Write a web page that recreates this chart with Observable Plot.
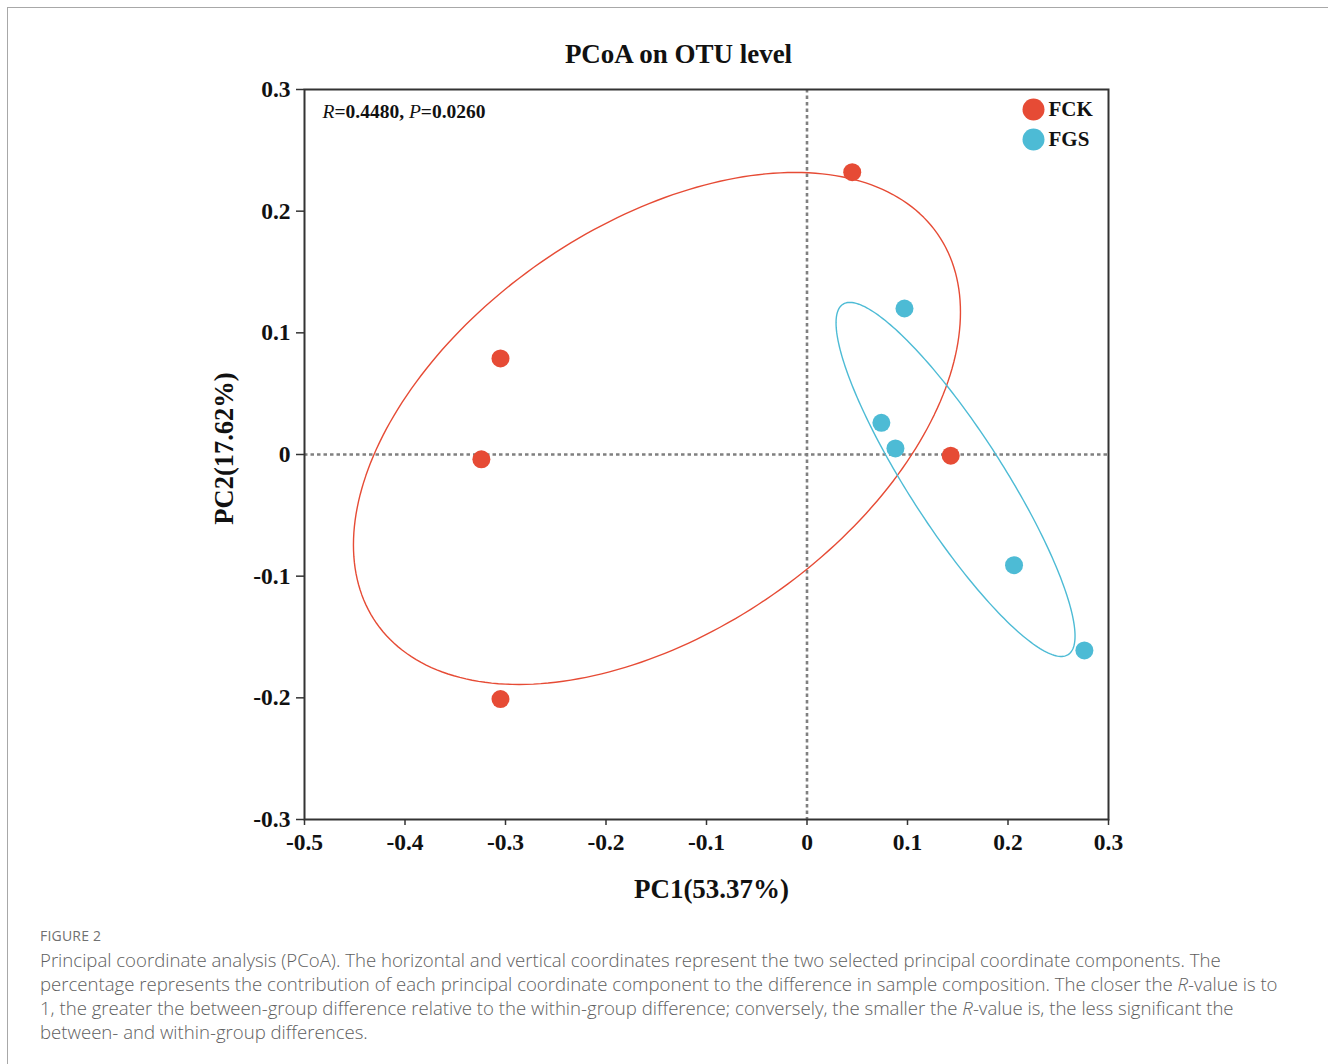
<!DOCTYPE html>
<html>
<head>
<meta charset="utf-8">
<script src="https://cdn.jsdelivr.net/npm/d3@7"></script>
<script src="https://cdn.jsdelivr.net/npm/@observablehq/plot@0.6"></script>
<style>
  html, body { margin: 0; padding: 0; background: #fff; }
  body { width: 1328px; height: 1064px; position: relative; overflow: hidden; }
  #frame { position: absolute; left: 7px; top: 7px; width: 1400px; height: 1200px; border: 1px solid #a8a8a8; box-sizing: border-box; }
  #chart { position: absolute; left: 0; top: 0; }
  #caption { position: absolute; left: 40px; top: 926px; font-family: "Open Sans", "Noto Sans", sans-serif; color: #5e5e5e; }
  #caption .fig { font-size: 14px; color: #707070; letter-spacing: 0.2px; line-height: 20px; margin-bottom: 2px; }
  #caption .line { font-size: 18.6px; line-height: 24px; white-space: nowrap; font-weight: 300; letter-spacing: 0px; }
</style>
</head>
<body>
<div id="frame"></div>
<div id="chart"></div>
<div id="caption">
  <div class="fig">FIGURE 2</div>
  <div class="line">Principal coordinate analysis (PCoA). The horizontal and vertical coordinates represent the two selected principal coordinate components. The</div>
  <div class="line">percentage represents the contribution of each principal coordinate component to the difference in sample composition. The closer the <i>R</i>-value is to</div>
  <div class="line">1, the greater the between-group difference relative to the within-group difference; conversely, the smaller the <i>R</i>-value is, the less significant the</div>
  <div class="line">between- and within-group differences.</div>
</div>
<script>
// ---- data ----
const groups = ["FCK", "FGS"];
const groupColors = ["#E64B35", "#4DBBD5"];

const fckPC1 = [0.045, -0.305, -0.324, -0.305, 0.143];
const fckPC2 = [0.232, 0.079, -0.004, -0.201, -0.001];
const fgsPC1 = [0.097, 0.074, 0.088, 0.206, 0.276];
const fgsPC2 = [0.120, 0.026, 0.005, -0.091, -0.161];

// confidence ellipses: centre, half extent in x and y, covariance term
const ellipseGroup = ["FCK", "FGS"];
const ellipseCX = [-0.1493, 0.1478];
const ellipseCY = [0.0214, -0.0205];
const ellipseHalfX = [0.302, 0.1189];
const ellipseHalfY = [0.2104, 0.1455];
const ellipseCov = [0.0289, -0.0153];

const xTicks = [-0.5, -0.4, -0.3, -0.2, -0.1, 0, 0.1, 0.2, 0.3];
const xTickLabels = ["-0.5", "-0.4", "-0.3", "-0.2", "-0.1", "0", "0.1", "0.2", "0.3"];
const yTicks = [-0.3, -0.2, -0.1, 0, 0.1, 0.2, 0.3];
const yTickLabels = ["-0.3", "-0.2", "-0.1", "0", "0.1", "0.2", "0.3"];

const titleText = "PCoA on OTU level";
const xLabel = "PC1(53.37%)";
const yLabel = "PC2(17.62%)";
const statText = "R=0.4480, P=0.0260";

// ---- build tables ----
const points = [
  ...fckPC1.map((x, i) => ({group: "FCK", x, y: fckPC2[i]})),
  ...fgsPC1.map((x, i) => ({group: "FGS", x, y: fgsPC2[i]}))
];

const ellipsePts = [];
ellipseGroup.forEach((g, k) => {
  const a = ellipseHalfX[k];
  const c = ellipseCov[k] / a;
  const d = Math.sqrt(ellipseHalfY[k] ** 2 - c * c);
  const n = 240;
  for (let i = 0; i <= n; i++) {
    const t = (2 * Math.PI * i) / n;
    ellipsePts.push({
      group: g,
      x: ellipseCX[k] + a * Math.cos(t),
      y: ellipseCY[k] + c * Math.cos(t) + d * Math.sin(t)
    });
  }
});

const fmtX = d => xTickLabels[xTicks.findIndex(v => Math.abs(v - d) < 1e-9)];
const fmtY = d => yTickLabels[yTicks.findIndex(v => Math.abs(v - d) < 1e-9)];

const serif = "'Liberation Serif', 'Times New Roman', serif";

const plot = Plot.plot({
  width: 1328,
  height: 920,
  marginLeft: 304,
  marginRight: 220,
  marginTop: 89,
  marginBottom: 101,
  style: {fontFamily: serif, fontWeight: "bold", color: "#111", background: "transparent"},
  x: {domain: [-0.5, 0.3], nice: false},
  y: {domain: [-0.3, 0.3], nice: false},
  color: {domain: groups, range: groupColors},
  marks: [
    Plot.ruleY([0], {stroke: "#808080", strokeWidth: 2.6, strokeDasharray: "3.5,3"}),
    Plot.ruleX([0], {stroke: "#808080", strokeWidth: 2.6, strokeDasharray: "3.5,3"}),
    Plot.line(ellipsePts, {x: "x", y: "y", z: "group", stroke: "group", strokeWidth: 1.4, curve: "linear"}),
    Plot.dot(points, {x: "x", y: "y", fill: "group", r: 9, stroke: "none"}),
    Plot.frame({stroke: "#333", strokeWidth: 2}),
    Plot.axisX({ticks: xTicks, tickFormat: fmtX, tickSize: 6, tickPadding: 8, fontSize: 23.5, fontWeight: "bold", fontFamily: serif, stroke: "#333", strokeWidth: 1.5, label: null}),
    Plot.axisY({ticks: yTicks, tickFormat: fmtY, tickSize: 8, tickPadding: 6, fontSize: 23.5, fontWeight: "bold", fontFamily: serif, stroke: "#333", strokeWidth: 1.5, label: null}),
    Plot.text([titleText], {text: d => d, frameAnchor: "top", dx: -28, dy: -35, lineAnchor: "middle", fontSize: 27, fontWeight: "bold", fontFamily: serif, fill: "#111"}),
    Plot.text([xLabel], {text: d => d, frameAnchor: "bottom", dx: 5, dy: 70, lineAnchor: "middle", fontSize: 27, fontWeight: "bold", fontFamily: serif, fill: "#111"}),
    Plot.text([yLabel], {text: d => d, frameAnchor: "left", dx: -80, dy: -6, rotate: -90, lineAnchor: "middle", textAnchor: "middle", fontSize: 26.5, fontWeight: "bold", fontFamily: serif, fill: "#111"}),
    Plot.text([statText], {text: d => d, frameAnchor: "top-left", dx: 18, dy: 22, lineAnchor: "middle", textAnchor: "start", fontSize: 19.5, fontWeight: "bold", fontFamily: serif, fill: "#111", className: "stat"}),
    ...groups.map((g, i) => Plot.dot([g], {frameAnchor: "top-right", dx: -75, dy: 20 + i * 30, r: 11, fill: groupColors[i]})),
    ...groups.map((g, i) => Plot.text([g], {text: d => d, frameAnchor: "top-right", dx: -60, dy: 20 + i * 30, textAnchor: "start", lineAnchor: "middle", fontSize: 21, fontWeight: "bold", fontFamily: serif, fill: "#111"}))
  ]
});

document.getElementById("chart").appendChild(plot);

// italic R and P in the statistic annotation
d3.select(plot).selectAll("g.stat text").each(function() {
  const t = d3.select(this);
  const parts = [["R", true], ["=0.4480, ", false], ["P", true], ["=0.0260", false]];
  t.text(null);
  parts.forEach(([s, it]) => {
    const ts = t.append("tspan").text(s);
    if (it) ts.attr("font-style", "italic").attr("font-weight", "normal");
  });
});
</script>
</body>
</html>
